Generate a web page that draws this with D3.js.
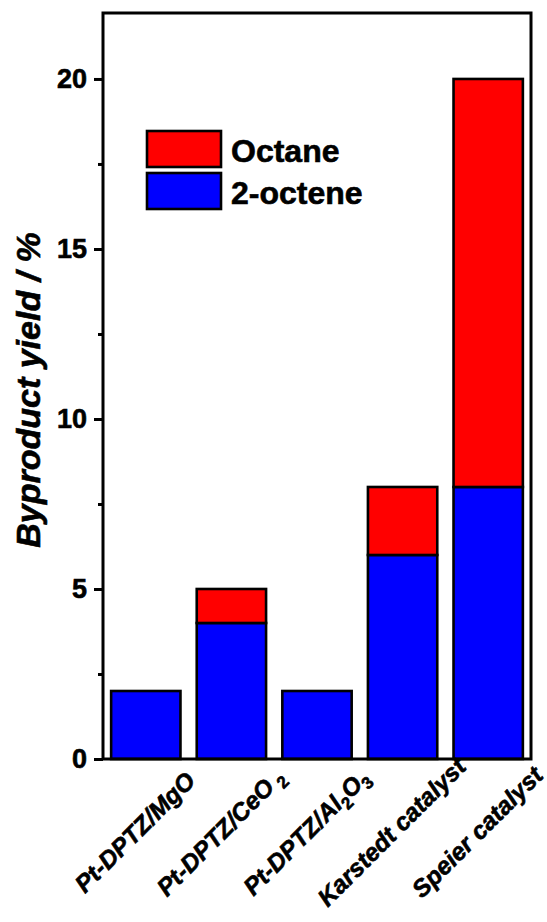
<!DOCTYPE html>
<html>
<head>
<meta charset="utf-8">
<script src="https://cdn.jsdelivr.net/npm/d3@7"></script>
<style>
  html, body { margin: 0; padding: 0; background: #fff; }
  svg { display: block; font-family: "Liberation Sans", Arial, sans-serif; }
  svg text { stroke: #000; stroke-width: 0.6px; }
</style>
</head>
<body>
<div id="chart"></div>
<script>
// Byproduct yield, stacked bars: 2-octene (bottom) + octane (top)
const catalysts = ["Pt-DPTZ/MgO", "Pt-DPTZ/CeO2", "Pt-DPTZ/Al2O3", "Karstedt catalyst", "Speier catalyst"];
const octene = [2, 4, 2, 6, 8];
const octane = [0, 1, 0, 2, 12];
const seriesNames = ["Octane", "2-octene"];
const yTicks = [0, 5, 10, 15, 20];
const yMinorTicks = [2.5, 7.5, 12.5, 17.5];

(function () {
  "use strict";

  const W = 547, H = 922;
  const m = { top: 13, right: 16, bottom: 163, left: 103 }; // plot frame edges
  const colors = { "Octane": "#ff0000", "2-octene": "#0000ff" };

  const svg = d3.select("#chart").append("svg")
    .attr("width", W).attr("height", H).attr("viewBox", `0 0 ${W} ${H}`);

  const x = d3.scaleBand().domain(catalysts)
    .range([m.left, W - m.right]).paddingInner(0.19).paddingOuter(0.095);
  const y = d3.scaleLinear().domain([0, 21.94]).range([H - m.bottom, m.top]);

  // --- bars ---
  const rows = catalysts.map((c, i) => ({ cat: c, "2-octene": octene[i], "Octane": octane[i] }));
  const stacked = d3.stack().keys(["2-octene", "Octane"])(rows);
  svg.append("g").selectAll("g").data(stacked).enter().append("g")
    .attr("fill", (d) => colors[d.key])
    .selectAll("rect").data((d) => d.filter((s) => s[1] - s[0] > 0)).enter().append("rect")
    .attr("x", (d) => x(d.data.cat))
    .attr("width", x.bandwidth())
    .attr("y", (d) => y(d[1]))
    .attr("height", (d) => y(d[0]) - y(d[1]))
    .attr("stroke", "#000").attr("stroke-width", 2.6);

  // --- frame ---
  svg.append("rect")
    .attr("x", m.left).attr("y", m.top)
    .attr("width", W - m.right - m.left).attr("height", H - m.bottom - m.top)
    .attr("fill", "none").attr("stroke", "#000").attr("stroke-width", 3);

  // --- y axis ---
  const yAxis = svg.append("g").attr("transform", `translate(${m.left},0)`)
    .call(d3.axisLeft(y).tickValues(yTicks).tickSize(9).tickPadding(7));
  yAxis.select(".domain").remove();
  yAxis.selectAll(".tick line").attr("stroke", "#000").attr("stroke-width", 3);
  yAxis.selectAll(".tick text")
    .attr("font-family", "'Liberation Sans', Arial, sans-serif")
    .attr("font-size", 27).attr("font-weight", "bold").attr("fill", "#000");
  svg.append("g").attr("transform", `translate(${m.left},0)`)
    .call(d3.axisLeft(y).tickValues(yMinorTicks).tickSize(5).tickFormat(""))
    .call((g) => g.select(".domain").remove())
    .selectAll(".tick line").attr("stroke", "#000").attr("stroke-width", 3);

  svg.append("text")
    .attr("transform", `translate(40,${390}) rotate(-90)`)
    .attr("text-anchor", "middle")
    .attr("font-size", 34).attr("font-weight", "bold").attr("font-style", "italic")
    .text("Byproduct yield / %");

  // --- x labels, rotated about their centres ---
  const subs = { "Pt-DPTZ/CeO2": [["Pt-DPTZ/CeO", 0], [" 2", 1]],
                 "Pt-DPTZ/Al2O3": [["Pt-DPTZ/Al", 0], ["2", 1], ["O", 0], ["3", 1]] };
  catalysts.forEach((c) => {
    const cx = x(c) + x.bandwidth() / 2 - 11;
    const t = svg.append("text")
      .attr("transform", `translate(${cx},832) rotate(-45)`)
      .attr("text-anchor", "middle").attr("dy", "0.35em")
      .attr("font-size", 24.5).attr("font-weight", "bold").attr("font-style", "italic");
    const parts = subs[c] || [[c, 0]];
    let low = false;
    parts.forEach(([s, sub]) => {
      const ts = t.append("tspan").text(s);
      if (sub && !low) { ts.attr("dy", 6).attr("font-size", 17).attr("font-style", "normal"); low = true; }
      else if (!sub && low) { ts.attr("dy", -6); low = false; }
    });
  });

  // --- legend ---
  const lg = svg.append("g").attr("transform", "translate(147,131)");
  seriesNames.forEach((name, i) => {
    lg.append("rect").attr("x", 0).attr("y", i * 42)
      .attr("width", 74).attr("height", 36)
      .attr("fill", colors[name]).attr("stroke", "#000").attr("stroke-width", 2.6);
    lg.append("text").attr("x", 84).attr("y", i * 42 + 31)
      .attr("font-size", 32).attr("font-weight", "bold").text(name);
  });
})();
</script>
</body>
</html>
